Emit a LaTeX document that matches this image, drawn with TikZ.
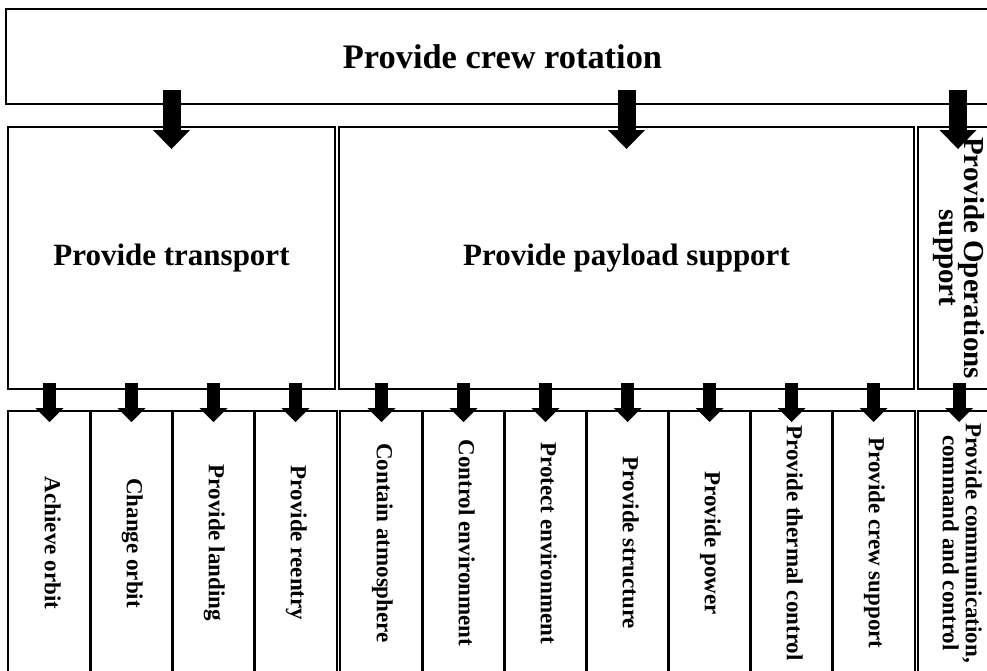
\documentclass[tikz,border=0pt]{standalone}
\usepackage{fontspec}
\usepackage{graphicx}
\setmainfont{Liberation Serif}
\usetikzlibrary{arrows.meta,calc}

\tikzset{
  box/.style={draw, line width=2pt, inner sep=0pt, align=center, font=\bfseries},
  colbox/.style={box, minimum width=83pt, minimum height=264pt,
    font=\bfseries\fontsize{23}{23}\selectfont},
  bigdown/.style={line width=18pt, -{Triangle[width=37pt,length=19pt,line width=0pt 0]}},
  smalldown/.style={line width=13pt, -{Triangle[width=28pt,length=14pt,line width=0pt 0]}}
}
\newcommand{\vtext}[1]{\rotatebox[origin=c]{-90}{\begin{tabular}{@{}c@{}}#1\end{tabular}}}

\begin{document}
\begin{tikzpicture}[x=1pt,y=-1pt]
  \useasboundingbox (0,0) rectangle (987,670);
  \fill[white] (0,0) rectangle (987,670);
  \clip (0,0) rectangle (987,670);

  % top level
  \node[box, minimum width=993pt, minimum height=95pt,
        font=\bfseries\fontsize{34.4}{40}\selectfont] (rot) at (502.5,56.5) {Provide crew rotation};

  % second level
  \node[box, minimum width=327pt, minimum height=262pt,
        font=\bfseries\fontsize{31}{36}\selectfont] (trans) at (171.5,258) {Provide transport};
  \node[box, minimum width=575pt, minimum height=262pt,
        font=\bfseries\fontsize{31}{36}\selectfont] (pay) at (626.5,258) {Provide payload support};
  \node[box, minimum width=80pt, minimum height=262pt,
        font=\bfseries\fontsize{29}{25}\selectfont] (ops) at (958,258) {\vtext{Provide Operations\\support}};

  % third level: transport functions
  \node[colbox] (c1) at (49.5,543)  {\vtext{Achieve orbit}};
  \node[colbox] (c2) at (131.5,543) {\vtext{Change orbit}};
  \node[colbox] (c3) at (213.5,543) {\vtext{Provide landing}};
  \node[colbox] (c4) at (295.5,543) {\vtext{Provide reentry}};
  % third level: payload support functions
  \node[colbox] (p1) at (381.5,543) {\vtext{Contain atmosphere}};
  \node[colbox] (p2) at (463.5,543) {\vtext{Control environment}};
  \node[colbox] (p3) at (545.5,543) {\vtext{Protect environment}};
  \node[colbox] (p4) at (627.5,543) {\vtext{Provide structure}};
  \node[colbox] (p5) at (709.5,543) {\vtext{Provide power}};
  \node[colbox] (p6) at (791.5,543) {\vtext{Provide thermal control}};
  \node[colbox] (p7) at (873.5,543) {\vtext{Provide crew support}};
  % third level: operations functions
  \node[colbox] (o1) at (959,543)   {\vtext{Provide communication,\\command and control}};

  % block arrows, first to second level
  \foreach \n in {trans,pay,ops}
    \draw[bigdown] ($(\n.north |- rot.south)+(0,-15)$) -- ($(\n.north)+(0,23)$);

  % block arrows, second to third level
  \foreach \n in {c1,c2,c3,c4}
    \draw[smalldown] ($(\n.north |- trans.south)+(0,-7)$) -- ($(\n.north)+(0,12)$);
  \foreach \n in {p1,p2,p3,p4,p5,p6,p7}
    \draw[smalldown] ($(\n.north |- pay.south)+(0,-7)$) -- ($(\n.north)+(0,12)$);
  \draw[smalldown] ($(o1.north |- ops.south)+(0,-7)$) -- ($(o1.north)+(0,12)$);
\end{tikzpicture}
\end{document}
